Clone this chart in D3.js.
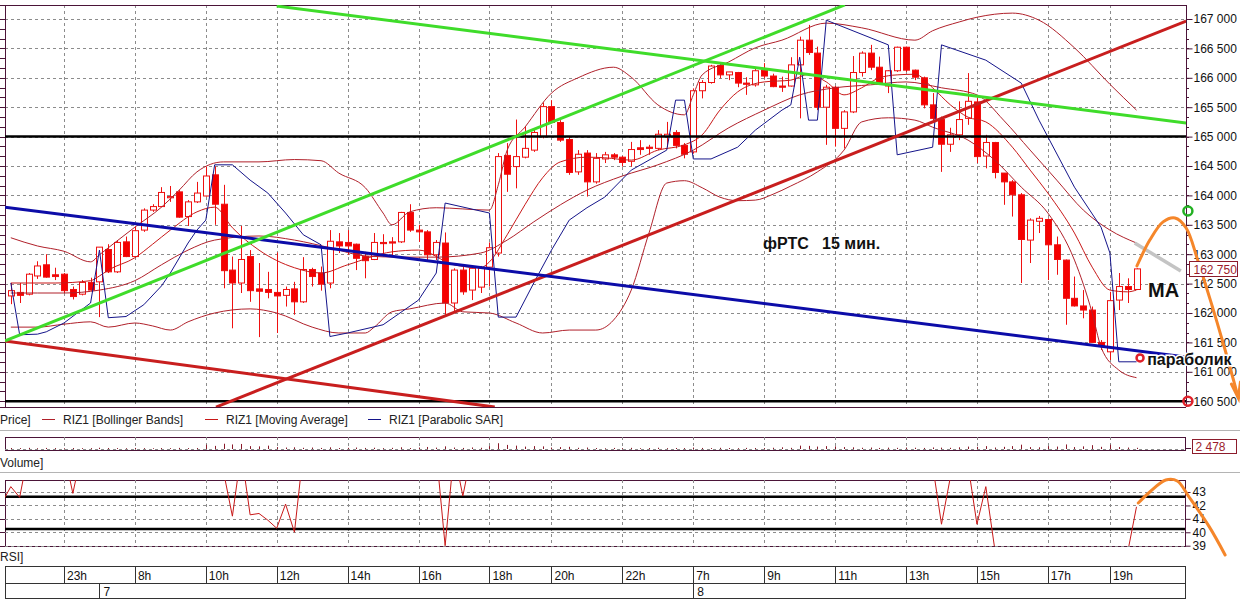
<!DOCTYPE html>
<html>
<head>
<meta charset="utf-8">
<script src="https://cdn.jsdelivr.net/npm/d3@7"></script>
<style>
  body { margin: 0; background: #fff; }
  svg { display: block; font-family: "Liberation Sans", Arial, sans-serif; }
</style>
</head>
<body>
<svg id="chart" width="1240" height="601"></svg>
<script>
// ---- RIZ1, 15-minute bars ----
const opens  = [162290,162350,162320,162630,162820,162650,162660,162400,162320,162520,162530,163080,162700,163210,162960,163410,163750,163810,163960,164060,163640,163890,163990,164350,163850,162730,162510,162960,162410,162400,162350,162300,162410,162190,162740,162680,162510,163210,163200,163170,162960,162910,163200,163210,163210,163710,163410,163380,162990,163190,162170,162730,162390,162440,162780,163020,164680,164490,164650,164770,165000,165510,165240,164950,164400,164720,164230,164620,164690,164650,164580,164810,164820,164800,165000,165070,164850,164740,165780,165920,166210,166050,166090,165910,165880,166130,166030,165860,165860,166220,166640,166420,165500,165840,165140,165420,166090,166420,166180,165860,166120,166520,166130,166000,165540,165290,164870,165030,165310,165590,164670,164900,164380,164230,164010,163240,163560,163590,163160,162900,162250,162120,162050,161500,161340,162220,162450,162400];
const highs  = [162510,162510,162680,162880,163000,162770,162680,162450,162560,162600,163120,163170,163240,163300,163470,163780,163850,164140,164160,164090,163920,164230,164490,164490,164180,162960,163480,163070,162850,162700,163030,162450,162530,162950,162770,162790,163410,163360,163410,163180,163040,163360,163340,163290,163720,163850,163500,163410,163240,163370,162760,162790,162790,162800,163200,164720,164890,165290,165170,165140,165580,165620,165280,165000,164770,164770,164720,164740,164720,164670,164910,164940,164860,165110,165250,165110,164890,165820,165960,166220,166250,166100,166100,166010,166160,166250,166070,166020,166350,166700,166900,166530,165880,165860,165450,166370,166450,166560,166360,166130,166530,166530,166140,166020,165740,165340,165150,165600,166080,165660,165030,164910,164380,164260,164040,163610,163650,163610,163300,162910,162620,162390,162110,161540,162360,162680,162590,162760];
const lows   = [162150,162170,162300,162580,162600,162560,162340,162230,162300,162380,161930,162680,162680,162950,162950,163380,163720,163800,163890,163620,163480,163870,163980,163500,162420,161740,162340,162190,161590,162250,161660,162110,161970,162170,162450,162380,162420,163020,162990,162730,162590,162900,162960,162970,163190,163380,163210,162900,162900,161970,162000,162310,162220,162340,162450,162960,164060,164120,164630,164740,164970,165230,164910,164350,164350,163980,164200,164550,164600,164490,164490,164690,164690,164770,164820,164800,164630,164710,165650,165900,165990,165960,165840,165710,165850,165990,165840,165760,165850,165310,166390,165450,164860,164830,164800,165400,166020,166130,165880,165740,166100,166100,165960,165480,165280,164400,164740,164940,165200,164550,164460,164290,163840,163640,162510,162850,163360,162560,162650,161800,162110,161910,161490,161370,161200,162050,162170,162390];
const closes = [162380,162300,162660,162800,162610,162620,162380,162280,162520,162390,163120,162700,163200,162960,163400,163750,163810,164050,163980,163630,163890,164040,164330,163850,162720,162510,162910,162380,162370,162350,162290,162400,162190,162740,162620,162490,163220,163140,163140,162930,162890,163200,163180,163190,163710,163410,163380,162990,163200,162170,162730,162360,162760,162760,163110,164660,164360,164660,164800,165070,165510,165240,164940,164390,164700,164230,164630,164690,164650,164560,164780,164780,164800,165040,165040,164850,164700,165780,165920,166200,166050,166100,165910,165890,166120,166030,165850,165840,166220,166640,166430,165500,165840,165140,165420,166090,166420,166180,165890,166120,166520,166130,166010,165540,165310,164870,165030,165290,165600,164660,164900,164390,164230,164010,163250,163580,163610,163160,162910,162250,162120,162050,161500,161430,162210,162450,162400,162750];
const volumes = [2100,1800,2400,1600,2200,1900,1500,2000,1700,1800,
  2600,2100,1900,1600,2200,1800,1500,2000,1700,2300,
  1900,2100,9000,6500,11000,9500,10500,6000,5500,7000,
  4000,3000,3500,2500,3000,2200,3500,2000,2400,3000,
  2200,2600,1800,2400,3600,2000,3000,4200,2800,5500,
  3000,2200,3200,2500,6000,12000,8500,7000,5000,6000,
  5500,3000,4000,4500,2500,3000,2000,1500,2200,1800,
  2400,1600,2000,2600,1700,2100,1900,3000,2200,1800,
  2500,2000,1700,2300,2100,1900,2600,3500,2400,7000,
  6500,5000,6000,5500,4000,3500,2600,3000,2200,2800,
  2400,3000,2600,2200,3200,2800,2500,3500,5000,4500,
  6000,3000,4500,6000,9000,4000,3500,6000,5000,9500,
  4000,5500,8000,4500,9000,4000,3000,2478];

// indicator curves: [bar index, price]
const bbUpper = [[0,163280],[3,163140],[6,163050],[9,162870],[10,162990],[14,163460],[17,163800],[19,164090],[21,164400],[24,164570],[28,164570],[32,164610],[35,164590],[37,164380],[40,164130],[42,163700],[43,163500],[45,163720],[48,163790],[54,163750],[55,164180],[56,164770],[58,165160],[61,165740],[64,166000],[68,166180],[70,166010],[73,165540],[76,165370],[77,165710],[78,166050],[81,166270],[84,166510],[87,166640],[92,166930],[96,166850],[102,166640],[104,166800],[107,166950],[109,167030],[113,167100],[116,166980],[120,166510],[124,165890],[127,165450]];
const bbMiddle = [[0,162340],[3,162340],[6,162340],[10,162390],[14,162550],[17,162820],[20,163070],[23,163240],[28,163310],[32,163240],[36,163110],[40,162970],[44,162950],[48,162950],[53,163020],[56,163240],[59,163550],[62,163840],[65,164090],[69,164330],[73,164520],[77,164770],[81,165150],[85,165450],[89,165710],[93,165830],[97,165880],[101,165930],[105,165830],[109,165710],[112,165280],[115,164770],[118,164260],[121,163750],[124,163410],[127,163190]];
const bbLower = [[0,161760],[3,161760],[6,161810],[9,161850],[11,161760],[14,161830],[16,161780],[18,161710],[20,161850],[23,162000],[27,162070],[30,162000],[34,161760],[37,161660],[40,161660],[41,161760],[43,162020],[45,162070],[49,162170],[51,162020],[54,162000],[57,161830],[60,161660],[63,161710],[66,161710],[68,161880],[70,162390],[72,163360],[74,164210],[76,164250],[78,164130],[80,163970],[82,163910],[84,163920],[86,164020],[88,164160],[91,164400],[94,164770],[96,165250],[99,165320],[102,165280],[104,165160],[108,164940],[111,164600],[114,164140],[117,163700],[120,162900],[122,162000],[123,161420],[125,161030],[127,160900]];
const movingAvg = [[0,162510],[5,162510],[9,162550],[10,162630],[11,162730],[14,162940],[16,163170],[18,163410],[21,163720],[23,163800],[25,163450],[28,163070],[32,162770],[35,162680],[38,162820],[43,163040],[46,163070],[50,162820],[53,162770],[54,162870],[56,163330],[58,163840],[60,164300],[62,164570],[65,164650],[67,164640],[70,164600],[73,164770],[76,164860],[78,165030],[80,165450],[82,165760],[85,165930],[88,165960],[90,166060],[92,165930],[94,165710],[96,165830],[98,166000],[100,166050],[102,166060],[104,165830],[106,165540],[108,165330],[110,165250],[113,164820],[115,164430],[117,164040],[120,163360],[122,162780],[124,162390],[126,162360],[127,162390]];
const parabolicSar = [[0,162510],[1,161630],[3,161640],[4,161680],[6,161830],[9,162170],[10,163070],[11,161920],[13,161940],[15,162140],[17,162460],[18,162680],[20,163190],[21,163410],[22,163580],[23,164520],[25,164520],[27,164260],[29,164040],[31,163700],[33,163330],[35,163160],[36,161600],[38,161660],[42,161800],[46,162220],[48,162680],[49,163870],[54,163700],[55,161930],[57,161930],[59,162510],[61,163070],[63,163580],[65,163790],[67,163970],[70,164430],[74,164770],[75,165620],[76,165620],[77,164620],[79,164620],[82,164820],[84,165110],[87,165450],[88,165540],[89,166350],[90,165280],[91,165280],[92,166980],[99,166560],[100,164690],[104,164820],[105,166560],[110,166300],[114,165910],[116,165280],[120,164140],[123,163460],[124,163020],[125,161170],[127,161170]];

// RSI pieces that fall inside the 39..43.9 window
const rsiPieces = [
  [[-1,42.2],[0,43.4],[1,42.6],[2,46]],
  [[6,46],[7,42.9],[8,46]],
  [[24,44.5],[25,41.2],[26,46],[27,41.3],[28,41.4],[29,40.9],[30,40.3],[31,42.1],[32,40.0],[33,46]],
  [[48,46],[49,39.0],[50,46],[51,42.7],[52,46]],
  [[104,45],[105,40.6],[106,44.1]],
  [[108,45],[109,40.6],[110,43.4],[111,38.8]],
  [[126,38.5],[127,41.9]]
];

// axis labels
const priceTicks = d3.range(160500, 167001, 500);
const rsiTicks = [39, 40, 41, 42, 43];
const rsiLevels = [40.25, 42.65];
const hourIdx = [6,14,22,30,38,46,54,61,69,77,85,93,101,109,117,124];
const hourLbl = ["23h","8h","10h","12h","14h","16h","18h","20h","22h","7h","9h","11h","13h","15h","17h","19h"];
const dayIdx = [10, 77];
const dayLbl = ["7", "8"];
const legendItems = ["RIZ1 [Bollinger Bands]", "RIZ1 [Moving Average]", "RIZ1 [Parabolic SAR]"];

// hand-drawn markup: [bar index, price]
const greenRise = [[-0.65,161525],[94.1,167240]];
const greenFall = [[30,167220],[132.6,165230]];
const redRise   = [[23.15,160400],[132.6,166965]];
const redFall   = [[-0.65,161525],[54.6,160400]];
const blueFall  = [[-0.65,163800],[132.6,161250]];
const levelLines = [165000, 160500];
const greyMark  = [[126.8,163190],[132.0,162714]];
const orangePath = [[127.05,162800],[128.5,163240],[130.0,163550],[131.35,163616],[132.6,163446],[133.9,162902],[135.5,162136],[137.0,161371],[138.5,160554]];
const orangeRsi = [[127.2,42.18],[128.5,43.0],[130.3,43.89],[131.6,43.82],[132.9,42.65],[135.2,40.42],[137.0,38.31]];
const ringMarks = [{i:132.8,p:163735,c:"#22b022"},{i:132.8,p:160500,c:"#e0202a"},{i:127.4,p:161235,c:"#e0202a"}];
const notes = [{i:84.86,p:163089,t:"фРТС   15 мин.",s:16,halo:false},{i:128.3,p:162272,t:"МА",s:20,halo:false},{i:128.2,p:161116,t:"параболик",s:16,halo:true}];

const lastPrice = closes[closes.length - 1];
const lastVolume = volumes[volumes.length - 1];

// ---- layout ----
const svg = d3.select("#chart");
const M = { l: 5, r: 1186, t: 5, b: 407 };
const VOL = { t: 437, b: 450 };
const RSI = { t: 480, b: 546 };
const XA = { t: 566, m: 583, b: 599 };
const axisCol = "#4b1438";
const gridCol = "#8c8c8c";

const x = d3.scaleLinear().domain([0, 127]).range([10.8, 1136.5]);
const y = d3.scaleLinear().domain([160500, 167000]).range([401.2, 19]);
const yv = d3.scaleLinear().domain([0, 25000]).range([449, 437]);
const yr = d3.scaleLinear().domain([39, 43]).range([545.7, 492]);
const px = v => Math.round(v) + 0.5;
const fmt = v => d3.format(",")(v).replace(/,/g, " ");

const defs = svg.append("defs");
defs.append("clipPath").attr("id", "cpMain").append("rect")
  .attr("x", M.l).attr("y", M.t).attr("width", M.r - M.l).attr("height", M.b - M.t);
defs.append("clipPath").attr("id", "cpRsi").append("rect")
  .attr("x", M.l).attr("y", RSI.t).attr("width", M.r - M.l).attr("height", RSI.b - RSI.t);

// ---- price panel grid ----
const grid = svg.append("g").attr("stroke", gridCol).attr("stroke-dasharray", "3,3").attr("stroke-width", 1);
grid.selectAll("line.h").data(priceTicks).join("line")
  .attr("x1", M.l).attr("x2", M.r).attr("y1", d => px(y(d))).attr("y2", d => px(y(d)));
grid.selectAll("line.v").data(hourIdx).join("line")
  .attr("x1", d => px(x(d))).attr("x2", d => px(x(d))).attr("y1", M.t).attr("y2", M.b);

// frame of the price panel
svg.append("line").attr("x1", 0).attr("x2", M.r).attr("y1", M.t + 0.5).attr("y2", M.t + 0.5).attr("stroke", axisCol);
svg.append("line").attr("x1", 0).attr("x2", M.r).attr("y1", M.b + 0.5).attr("y2", M.b + 0.5).attr("stroke", axisCol);
svg.append("line").attr("x1", M.l + 0.5).attr("x2", M.l + 0.5).attr("y1", M.t).attr("y2", M.b).attr("stroke", axisCol);
svg.append("line").attr("x1", M.r + 0.5).attr("x2", M.r + 0.5).attr("y1", M.t).attr("y2", M.b).attr("stroke", axisCol);

// right price axis
const minorTicks = d3.range(160500, 167001, 500 / 3);
const axR = svg.append("g").attr("transform", `translate(${M.r + 0.5},0)`)
  .call(d3.axisRight(y).tickValues(priceTicks).tickSize(6).tickPadding(1).tickFormat(fmt));
axR.select(".domain").remove();
axR.selectAll("line").attr("stroke", axisCol);
axR.selectAll("text").attr("font-size", 12).attr("fill", "#111").attr("font-family", "Liberation Sans, Arial, sans-serif");
svg.append("g").selectAll("line").data(minorTicks).join("line")
  .attr("x1", M.r).attr("x2", M.r + 3).attr("y1", d => px(y(d))).attr("y2", d => px(y(d))).attr("stroke", axisCol);
svg.append("g").selectAll("line").data(minorTicks).join("line")
  .attr("x1", 0).attr("x2", M.l).attr("y1", d => px(y(d))).attr("y2", d => px(y(d))).attr("stroke", axisCol);

// ---- candles and indicators ----
const bars = d3.range(opens.length).map(i => ({ i, o: opens[i], h: highs[i], l: lows[i], c: closes[i] }));
const plot = svg.append("g").attr("clip-path", "url(#cpMain)");

const curve = d3.line().x(d => x(d[0])).y(d => y(d[1])).curve(d3.curveMonotoneX);
const straight = d3.line().x(d => x(d[0])).y(d => y(d[1]));

plot.selectAll("line.wick").data(bars).join("line").attr("class", "wick")
  .attr("x1", d => px(x(d.i))).attr("x2", d => px(x(d.i)))
  .attr("y1", d => y(d.h)).attr("y2", d => y(d.l))
  .attr("stroke", "#f01010").attr("stroke-width", 1);
plot.selectAll("rect.body").data(bars).join("rect").attr("class", "body")
  .attr("x", d => Math.round(x(d.i)) - 2.5).attr("width", 6)
  .attr("y", d => y(Math.max(d.o, d.c)))
  .attr("height", d => Math.max(1.2, Math.abs(y(d.o) - y(d.c))))
  .attr("fill", d => d.c < d.o ? "#f50000" : "#ffffff")
  .attr("stroke", "#ee1010").attr("stroke-width", 1);

[bbUpper, bbMiddle, bbLower].forEach(s =>
  plot.append("path").attr("d", curve(s)).attr("fill", "none").attr("stroke", "#b0202a").attr("stroke-width", 1));
plot.append("path").attr("d", curve(movingAvg)).attr("fill", "none").attr("stroke", "#c81818").attr("stroke-width", 1);
plot.append("path").attr("d", straight(parabolicSar)).attr("fill", "none").attr("stroke", "#14148a").attr("stroke-width", 1);

// ---- hand-drawn markup on the price panel ----
const marks = svg.append("g").attr("clip-path", "url(#cpMain)");
levelLines.forEach(v => marks.append("line").attr("x1", M.l).attr("x2", M.r)
  .attr("y1", y(v)).attr("y2", y(v)).attr("stroke", "#000").attr("stroke-width", 2.5));
marks.append("path").attr("d", straight(redFall)).attr("stroke", "#c81e1e").attr("stroke-width", 3).attr("fill", "none");
marks.append("path").attr("d", straight(redRise)).attr("stroke", "#c81e1e").attr("stroke-width", 3).attr("fill", "none");
marks.append("path").attr("d", straight(blueFall)).attr("stroke", "#0c0ca8").attr("stroke-width", 3).attr("fill", "none");
marks.append("path").attr("d", straight(greenRise)).attr("stroke", "#3fdc2a").attr("stroke-width", 3).attr("fill", "none");
marks.append("path").attr("d", straight(greenFall)).attr("stroke", "#3fdc2a").attr("stroke-width", 3).attr("fill", "none");

svg.append("path").attr("d", straight(greyMark)).attr("stroke", "#c4c4c4").attr("stroke-width", 3.5).attr("fill", "none");
const orangeLine = d3.line().x(d => x(d[0])).y(d => y(d[1])).curve(d3.curveCatmullRom);
svg.append("path").attr("d", orangeLine(orangePath)).attr("stroke", "#f5862a").attr("stroke-width", 3).attr("fill", "none").attr("stroke-linecap", "round");
{
  const e = orangePath[orangePath.length - 1];
  const ex = x(e[0]), ey = y(e[1]);
  svg.append("path").attr("d", `M${ex - 7},${ey - 14}L${ex},${ey}L${ex + 2},${ey - 16}`)
    .attr("stroke", "#f5862a").attr("stroke-width", 3).attr("fill", "none").attr("stroke-linecap", "round");
}
svg.selectAll("circle.ring").data(ringMarks).join("circle").attr("class", "ring")
  .attr("cx", d => x(d.i)).attr("cy", d => y(d.p)).attr("r", (d, k) => k === 2 ? 3.5 : 4.5)
  .attr("fill", "none").attr("stroke", d => d.c).attr("stroke-width", 2.5);
svg.selectAll("text.note").data(notes).join("text").attr("class", "note")
  .attr("x", d => x(d.i)).attr("y", d => y(d.p)).text(d => d.t)
  .attr("font-size", d => d.s).attr("font-weight", "bold").attr("fill", "#111")
  .attr("stroke", d => d.halo ? "#fff" : "none").attr("stroke-width", d => d.halo ? 3 : 0)
  .attr("paint-order", "stroke")
  .attr("font-family", "Liberation Sans, Arial, sans-serif").style("white-space", "pre");

// last price label
{
  const g = svg.append("g").attr("transform", `translate(1189.5,${Math.round(y(lastPrice)) - 7.5})`);
  g.append("rect").attr("width", 48).attr("height", 15).attr("fill", "#fff").attr("stroke", "#8c1c2c");
  g.append("text").attr("x", 4).attr("y", 12).text(fmt(lastPrice)).attr("font-size", 12).attr("fill", "#9c1c2c");
}

// ---- legend row ----
const leg = svg.append("g").attr("font-size", 12).attr("fill", "#222");
leg.append("text").attr("x", 0).attr("y", 424).text("Price]");
const legX = [42, 205, 368];
const legC = ["#b0202a", "#c81818", "#14148a"];
legendItems.forEach((t, k) => {
  leg.append("line").attr("x1", legX[k]).attr("x2", legX[k] + 13).attr("y1", 419.5).attr("y2", 419.5).attr("stroke", legC[k]);
  leg.append("text").attr("x", legX[k] + 21).attr("y", 424).text(t);
});
[430.5, 472.5].forEach(v => svg.append("line").attr("x1", 0).attr("x2", 1240).attr("y1", v).attr("y2", v).attr("stroke", "#b4b4b4"));

// ---- volume panel ----
const vg = svg.append("g");
vg.append("rect").attr("x", M.l + 0.5).attr("y", VOL.t + 0.5).attr("width", M.r - 1 - M.l).attr("height", VOL.b - VOL.t).attr("fill", "none").attr("stroke", axisCol);
vg.selectAll("line.vv").data(hourIdx).join("line").attr("x1", d => px(x(d))).attr("x2", d => px(x(d)))
  .attr("y1", VOL.t).attr("y2", VOL.b).attr("stroke", gridCol).attr("stroke-dasharray", "3,3");
vg.append("line").attr("x1", M.l).attr("x2", M.r - 1).attr("y1", 449.5).attr("y2", 449.5).attr("stroke", gridCol).attr("stroke-dasharray", "3,3");
vg.selectAll("line.vb").data(volumes).join("line")
  .attr("x1", (d, i) => px(x(i))).attr("x2", (d, i) => px(x(i)))
  .attr("y1", yv(0)).attr("y2", d => yv(d)).attr("stroke", "#8a1a2a").attr("stroke-width", 1);
vg.append("line").attr("x1", M.r - 1).attr("x2", M.r + 5).attr("y1", px(yv(lastVolume))).attr("y2", px(yv(lastVolume))).attr("stroke", axisCol);
{
  const g = vg.append("g").attr("transform", "translate(1192.5,439.5)");
  g.append("rect").attr("width", 44).attr("height", 14).attr("fill", "#fff").attr("stroke", "#8c1c2c");
  g.append("text").attr("x", 3).attr("y", 11.5).text(fmt(lastVolume)).attr("font-size", 12).attr("fill", "#9c1c2c");
}
svg.append("text").attr("x", 0).attr("y", 467).text("Volume]").attr("font-size", 12).attr("fill", "#222");

// ---- RSI panel ----
const rg = svg.append("g");
rg.append("rect").attr("x", M.l + 0.5).attr("y", RSI.t + 0.5).attr("width", M.r - 1 - M.l).attr("height", RSI.b - RSI.t).attr("fill", "none").attr("stroke", axisCol);
rg.selectAll("line.rh").data(rsiTicks).join("line").attr("x1", M.l).attr("x2", M.r - 1)
  .attr("y1", d => px(yr(d))).attr("y2", d => px(yr(d))).attr("stroke", gridCol).attr("stroke-dasharray", "3,3");
rg.selectAll("line.rv").data(hourIdx).join("line").attr("x1", d => px(x(d))).attr("x2", d => px(x(d)))
  .attr("y1", RSI.t).attr("y2", RSI.b).attr("stroke", gridCol).attr("stroke-dasharray", "3,3");
rg.selectAll("line.rl").data(rsiLevels).join("line").attr("x1", M.l).attr("x2", M.r - 1)
  .attr("y1", d => yr(d)).attr("y2", d => yr(d)).attr("stroke", "#000").attr("stroke-width", 2.5);
const rsiLine = d3.line().x(d => x(d[0])).y(d => yr(d[1]));
rg.append("g").attr("clip-path", "url(#cpRsi)").selectAll("path").data(rsiPieces).join("path")
  .attr("d", rsiLine).attr("fill", "none").attr("stroke", "#c81818").attr("stroke-width", 1);
const axRsi = rg.append("g").attr("transform", `translate(${M.r - 0.5},0)`)
  .call(d3.axisRight(yr).tickValues(rsiTicks).tickSize(5).tickPadding(2).tickFormat(d3.format("d")));
axRsi.select(".domain").remove();
axRsi.selectAll("line").attr("stroke", axisCol);
axRsi.selectAll("text").attr("font-size", 12).attr("fill", "#111").attr("font-family", "Liberation Sans, Arial, sans-serif");
rg.selectAll("line.lt").data(rsiTicks).join("line").attr("x1", 0).attr("x2", M.l)
  .attr("y1", d => px(yr(d))).attr("y2", d => px(yr(d))).attr("stroke", axisCol);
const orangeR = d3.line().x(d => x(d[0])).y(d => yr(d[1])).curve(d3.curveCatmullRom);
svg.append("path").attr("d", orangeR(orangeRsi)).attr("stroke", "#f5862a").attr("stroke-width", 3).attr("fill", "none").attr("stroke-linecap", "round");
svg.append("text").attr("x", 0).attr("y", 561).text("RSI]").attr("font-size", 12).attr("fill", "#222");

// ---- time axis ----
const xg = svg.append("g");
xg.append("rect").attr("x", M.l + 0.5).attr("y", XA.t + 0.5).attr("width", M.r - 1 - M.l).attr("height", XA.b - XA.t - 1).attr("fill", "none").attr("stroke", "#333");
xg.append("line").attr("x1", M.l).attr("x2", M.r - 1).attr("y1", XA.m + 0.5).attr("y2", XA.m + 0.5).attr("stroke", "#333");
xg.selectAll("line.ht").data(hourIdx).join("line").attr("x1", d => px(x(d))).attr("x2", d => px(x(d)))
  .attr("y1", XA.t).attr("y2", XA.m).attr("stroke", "#333");
xg.selectAll("text.hl").data(hourIdx).join("text").attr("x", d => x(d) + 3).attr("y", 580)
  .text((d, k) => hourLbl[k]).attr("font-size", 12).attr("fill", "#111");
xg.selectAll("line.dt").data(dayIdx).join("line").attr("x1", d => px(x(d))).attr("x2", d => px(x(d)))
  .attr("y1", XA.m).attr("y2", XA.b).attr("stroke", "#333");
xg.selectAll("text.dl").data(dayIdx).join("text").attr("x", d => x(d) + 4).attr("y", 596)
  .text((d, k) => dayLbl[k]).attr("font-size", 12).attr("fill", "#111");
</script>
</body>
</html>
